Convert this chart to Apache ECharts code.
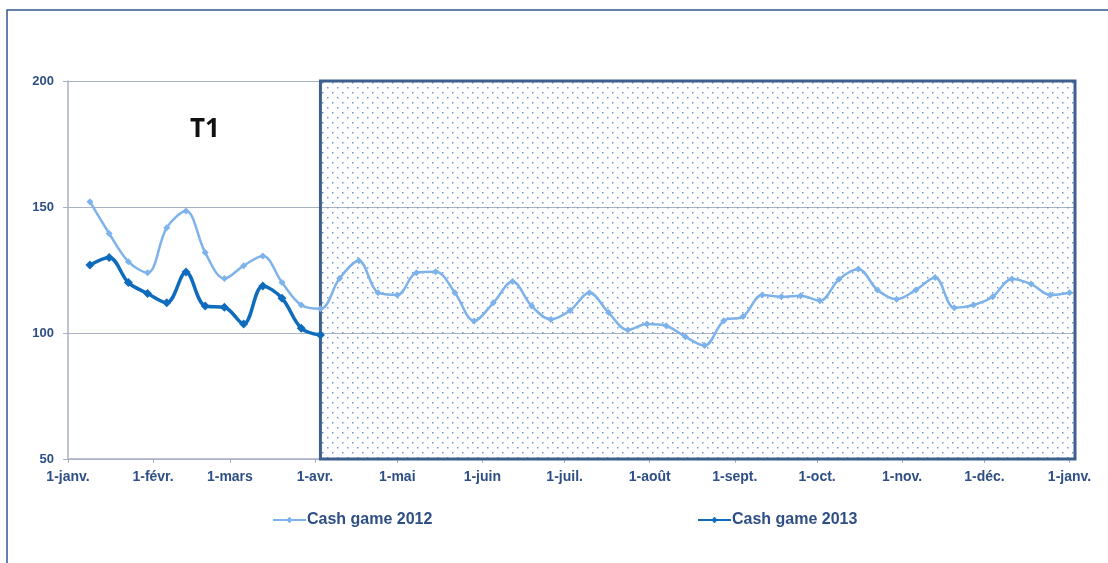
<!DOCTYPE html>
<html>
<head>
<meta charset="utf-8">
<script src="https://cdn.jsdelivr.net/npm/echarts@6/dist/echarts.min.js"></script>
<style>
html,body{margin:0;padding:0;background:#fff;}
#chart{width:1108px;height:563px;}
</style>
</head>
<body>
<div id="chart"></div>
<script>
// ---- DATA ----
const monthLabels = ['1-janv.','1-févr.','1-mars','1-avr.','1-mai','1-juin','1-juil.','1-août','1-sept.','1-oct.','1-nov.','1-déc.','1-janv.'];
const axisStart = '2013-01-01';
const axisEnd = '2014-01-03';
const firstWeek = '2013-01-09';
const shadeStart = '2013-04-03';
const cash2012 = [152.1,139.5,128.3,123.9,141.8,148.4,131.9,121.6,126.7,130.6,120.0,111.1,109.6,
  121.7,128.7,116.0,115.1,123.9,124.3,116.0,104.8,112.0,120.4,110.7,105.4,108.9,116.0,108.1,101.2,103.6,102.9,98.5,95.0,
  104.9,106.5,115.1,114.4,114.8,112.8,121.3,125.4,117.1,113.4,117.1,122.0,110.0,111.1,114.4,121.4,119.4,115.1,116.0];
const cash2013 = [127.0,130.0,120.0,115.7,112.0,124.2,110.7,110.2,103.6,118.7,113.8,101.9,99.2];
const yTicks = {min:50, max:200, interval:50};

// ---- build categories (days) ----
function iso(d){return d.toISOString().slice(0,10);}
const days = [];
for(let d=new Date(axisStart+'T00:00:00Z'); iso(d)<=axisEnd; d.setUTCDate(d.getUTCDate()+1)) days.push(iso(d));
function weekDates(n){
  const out=[]; const d=new Date(firstWeek+'T00:00:00Z');
  for(let i=0;i<n;i++){out.push(iso(d)); d.setUTCDate(d.getUTCDate()+7);}
  return out;
}
const w12 = weekDates(cash2012.length);
const w13 = weekDates(cash2013.length);
const s12 = cash2012.map((v,i)=>[w12[i], v]);
const s13 = cash2013.map((v,i)=>[w13[i], v]);

function isMonthStart(idx, val){ return val.slice(8)==='01'; }
function monthLabel(val){
  if(val.slice(0,4)==='2014') return monthLabels[12];
  return monthLabels[parseInt(val.slice(5,7),10)-1];
}

// dotted pattern
const pc = document.createElement('canvas');
pc.width = 10; pc.height = 10;
const pctx = pc.getContext('2d');
pctx.fillStyle = '#6F95D2';
pctx.fillRect(2,2,1.5,1.5);
pctx.fillRect(7,7,1.5,1.5);

const txtColor = '#2E4F86';
const font = 'Liberation Sans';

const chart = echarts.init(document.getElementById('chart'));
chart.setOption({
  backgroundColor:'#fff',
  animation:false,
  grid:{left:68, right:33, top:81, bottom:104, containLabel:false},
  xAxis:{
    type:'category', data:days, boundaryGap:false,
    axisLine:{lineStyle:{color:'#A8B0C4', width:1.5}},
    axisTick:{show:true, interval:isMonthStart, length:4, inside:false, lineStyle:{color:'#A8B0C4'}},
    axisLabel:{interval:isMonthStart, formatter:monthLabel, color:txtColor, fontFamily:font, fontWeight:'bold', fontSize:14, margin:11},
    splitLine:{show:false}
  },
  yAxis:{
    type:'value', min:yTicks.min, max:yTicks.max, interval:yTicks.interval,
    axisLine:{show:true, lineStyle:{color:'#A8B0C4', width:1.5}},
    axisTick:{show:true, length:5, lineStyle:{color:'#A8B0C4'}},
    axisLabel:{color:txtColor, fontFamily:font, fontWeight:'bold', fontSize:13, margin:14},
    splitLine:{show:true, lineStyle:{color:'#A9B1C2', width:1}}
  },
  legend:[
    {data:['Cash game 2012'], left:267, top:507, itemWidth:33, itemHeight:8, itemGap:2,
     textStyle:{color:txtColor, fontFamily:font, fontWeight:'bold', fontSize:16, padding:[0,0,0,-4]}},
    {data:['Cash game 2013'], left:692, top:507, itemWidth:33, itemHeight:8, itemGap:2,
     textStyle:{color:txtColor, fontFamily:font, fontWeight:'bold', fontSize:16, padding:[0,0,0,-4]}}
  ],
  graphic:[
    {type:'rect', silent:true, z:-10,
     shape:{x:7, y:10, width:1120, height:580}, style:{fill:null, stroke:'#2F5A8F', lineWidth:1.5}},
    {type:'text', left:190, top:117, style:{text:'T1', fill:'#111', font:'bold 26px "Open Sans"'}}
  ],
  series:[
    {
      name:'Cash game 2012', type:'line', data:s12, smooth:0.35,
      symbol:'diamond', symbolSize:7, showSymbol:true, showAllSymbol:true,
      lineStyle:{color:'#7DB2EA', width:2.5},
      itemStyle:{color:'#7DB2EA'},
      z:3,
      markArea:{
        silent:true,
        itemStyle:{color:{image:pc, repeat:'repeat'}, borderColor:'#3F5F8E', borderWidth:3},
        data:[[{xAxis:shadeStart, yAxis:yTicks.max},{xAxis:axisEnd, yAxis:yTicks.min}]]
      }
    },
    {
      name:'Cash game 2013', type:'line', data:s13, smooth:0.35,
      symbol:'diamond', symbolSize:9, showAllSymbol:true,
      lineStyle:{color:'#0F6CBD', width:3.5},
      itemStyle:{color:'#0F6CBD'},
      z:4
    }
  ]
});
</script>
</body>
</html>
